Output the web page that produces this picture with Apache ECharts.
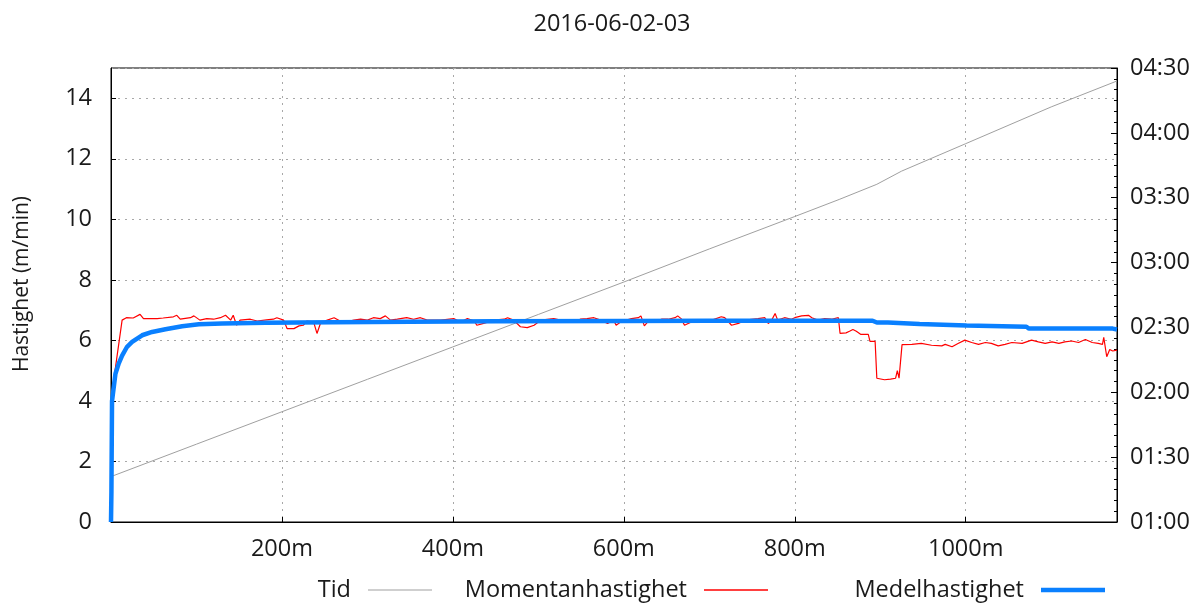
<!DOCTYPE html>
<html>
<head>
<meta charset="utf-8">
<title>2016-06-02-03</title>
<script src="https://cdn.jsdelivr.net/npm/echarts@6/dist/echarts.min.js"></script>
<style>
  html, body { margin: 0; padding: 0; background: #fff; }
  #chart { width: 1194px; height: 603px; }
</style>
</head>
<body>
<div id="chart"></div>
<script>
// Distance (m) vs. instantaneous speed (m/min)
const momentanhastighet = [
  [0, 0], [1.2, 4.3], [13, 6.67], [18, 6.75], [26, 6.74], [34, 6.86], [38, 6.72], [54, 6.72],
  [61, 6.74], [73, 6.78], [77, 6.83], [81, 6.70], [93, 6.75], [97, 6.81], [104, 6.67], [112, 6.72],
  [120, 6.70], [128, 6.75], [134, 6.83], [140, 6.67], [143, 6.83], [147, 6.50], [151, 6.67], [163, 6.70],
  [171, 6.64], [182, 6.68], [190, 6.70], [194, 6.75], [202, 6.67], [206, 6.39], [214, 6.39], [220, 6.48],
  [225, 6.50], [229, 6.64], [237, 6.61], [241, 6.23], [245, 6.56], [253, 6.67], [261, 6.75], [268, 6.64],
  [276, 6.61], [284, 6.67], [292, 6.70], [300, 6.67], [307, 6.75], [315, 6.72], [321, 6.81], [327, 6.67],
  [335, 6.70], [346, 6.75], [354, 6.70], [362, 6.75], [370, 6.67], [386, 6.67], [401, 6.72], [409, 6.61],
  [417, 6.72], [425, 6.64], [428, 6.50], [436, 6.56], [448, 6.67], [460, 6.70], [464, 6.75], [471, 6.67],
  [479, 6.45], [487, 6.42], [495, 6.50], [503, 6.67], [518, 6.72], [526, 6.67], [542, 6.64], [549, 6.70],
  [557, 6.72], [565, 6.75], [573, 6.67], [581, 6.56], [588, 6.67], [591, 6.50], [597, 6.62], [609, 6.72],
  [617, 6.75], [620, 6.81], [624, 6.48], [628, 6.61], [636, 6.64], [644, 6.70], [652, 6.70], [660, 6.75],
  [663, 6.81], [667, 6.72], [671, 6.50], [679, 6.61], [687, 6.67], [703, 6.67], [714, 6.78], [718, 6.75],
  [726, 6.50], [734, 6.56], [742, 6.67], [757, 6.72], [765, 6.75], [769, 6.56], [773, 6.67], [777, 6.89],
  [780, 6.67], [788, 6.75], [796, 6.70], [800, 6.75], [808, 6.81], [816, 6.83], [820, 6.75], [827, 6.67],
  [835, 6.72], [843, 6.70], [851, 6.75], [853, 6.23], [860, 6.25], [864, 6.30], [868, 6.36], [872, 6.30],
  [877, 6.20], [886, 6.20], [888, 5.97], [894, 5.97], [896, 4.75], [905, 4.70], [912, 4.72], [918, 4.75],
  [920, 5.00], [922, 4.75], [924, 4.78], [925.5, 5.86], [937, 5.87], [948, 5.90], [960, 5.84], [972, 5.82],
  [976, 5.87], [984, 5.79], [991, 5.90], [999, 6.01], [1007, 5.93], [1015, 5.87], [1023, 5.93], [1030, 5.90],
  [1038, 5.82], [1046, 5.87], [1054, 5.93], [1066, 5.90], [1077, 6.01], [1085, 5.95], [1093, 5.90], [1101, 5.95],
  [1109, 5.90], [1116, 5.95], [1124, 5.98], [1132, 5.93], [1140, 6.03], [1148, 5.93], [1155, 5.90], [1160, 5.87],
  [1161.5, 6.10], [1165, 5.46], [1168.5, 5.70], [1172, 5.65], [1177, 5.68]
];

// Distance (m) vs. running average speed (m/min)
const medelhastighet = [
  [0, 0], [0.5, 1.0], [1.2, 4.0], [5.2, 4.9], [9.1, 5.24], [13, 5.5], [18.8, 5.79], [24.7, 5.95],
  [36.4, 6.17], [48.1, 6.28], [63.7, 6.37], [83.3, 6.47], [102.8, 6.53], [130, 6.56], [181, 6.58],
  [259, 6.60], [350, 6.62], [450, 6.63], [600, 6.64], [700, 6.65], [891, 6.65], [896, 6.59], [909, 6.59],
  [911, 6.54], [946, 6.54], [948, 6.49], [1001, 6.49], [1003, 6.45], [1071, 6.45], [1074, 6.39],
  [1172, 6.39], [1177, 6.36]
];

// Distance (m) vs. clock time (minutes after midnight)
const tid = [
  [0, 81], [100, 96], [200, 111], [300, 126], [400, 141], [500, 156], [600, 171], [700, 186.3],
  [800, 201.3], [852, 209.2], [896, 216.2], [925, 222.3], [1000, 235], [1100, 252], [1177, 264]
];

const seriesNames = ['Tid', 'Momentanhastighet', 'Medelhastighet'];
const chartTitle = '2016-06-02-03';
const speedAxisName = 'Hastighet (m/min)';

const FONT = '"Open Sans", "Noto Sans", sans-serif';
const TEXT = '#1a1a1a';
const FS = 23.5;

const GRAY = '#a0a0a0', RED = '#ff0000', BLUE = '#0a80ff';

function clock(min) {
  const h = Math.floor(min / 60), m = Math.round(min % 60);
  return String(h).padStart(2, '0') + ':' + String(m).padStart(2, '0');
}

const dotted = { show: true, lineStyle: { color: '#a8a8a8', width: 1, type: [2, 5] } };

// One key entry per column: text right-justified, line sample after it
function legendFor(name, rightEdge, color, thickness) {
  return {
    data: [name],
    right: rightEdge,
    top: 578,
    padding: 0,
    align: 'right',
    icon: 'rect',
    itemWidth: 64,
    itemHeight: thickness,
    itemStyle: { color: color },
    selectedMode: false,
    textStyle: { fontFamily: FONT, fontSize: FS, color: TEXT, padding: [0, 12, 0, 0] }
  };
}

const chart = echarts.init(document.getElementById('chart'), null, { renderer: 'canvas' });
chart.setOption({
  animation: false,
  backgroundColor: '#fff',
  title: {
    text: chartTitle,
    left: 607,
    textAlign: 'center',
    top: 7,
    textStyle: { fontFamily: FONT, fontSize: FS, fontWeight: 'normal', color: TEXT }
  },
  legend: [
    legendFor(seriesNames[0], 762, GRAY, 1),
    legendFor(seriesNames[1], 426, RED, 1.5),
    legendFor(seriesNames[2], 89, BLUE, 4.5)
  ],
  grid: {
    left: 111, right: 77, top: 68, bottom: 81,
    show: true, borderColor: '#000', borderWidth: 1,
    containLabel: false,
    outerBoundsMode: 'none'
  },
  xAxis: {
    type: 'value',
    min: 0, max: 1177, interval: 200,
    axisLine: { show: true, lineStyle: { color: '#000', width: 1 } },
    axisTick: { show: true, inside: true, length: 5, lineStyle: { color: '#000' } },
    axisLabel: {
      fontFamily: FONT, fontSize: FS, color: TEXT, margin: 15,
      showMinLabel: false, showMaxLabel: false,
      formatter: v => (v === 0 ? '' : v + 'm')
    },
    splitLine: dotted
  },
  yAxis: [
    {
      type: 'value',
      min: 0, max: 15, interval: 2,
      name: speedAxisName,
      nameLocation: 'middle',
      nameGap: 78,
      nameTextStyle: { fontFamily: FONT, fontSize: 21, color: TEXT, padding: [0, 0, 0, 22] },
      axisLine: { show: true, lineStyle: { color: '#000', width: 1 } },
      axisTick: { show: true, inside: true, length: 5, lineStyle: { color: '#000' } },
      axisLabel: { fontFamily: FONT, fontSize: FS, color: TEXT, margin: 19, showMaxLabel: false },
      splitLine: dotted
    },
    {
      type: 'value',
      position: 'right',
      min: 60, max: 270, interval: 30,
      axisLine: { show: true, lineStyle: { color: '#000', width: 1 } },
      axisTick: { show: true, inside: true, length: 6, lineStyle: { color: '#000' } },
      minorTick: { show: true, splitNumber: 6, length: 3, lineStyle: { color: '#000' } },
      axisLabel: { fontFamily: FONT, fontSize: FS, color: TEXT, margin: 13, formatter: clock },
      splitLine: { show: false }
    }
  ],
  series: [
    {
      name: seriesNames[0], type: 'line', yAxisIndex: 1, data: tid,
      symbol: 'none', lineStyle: { color: GRAY, width: 1 }, itemStyle: { color: GRAY }, z: 2
    },
    {
      name: seriesNames[1], type: 'line', data: momentanhastighet,
      symbol: 'none', lineStyle: { color: RED, width: 1.2 }, itemStyle: { color: RED }, z: 3
    },
    {
      name: seriesNames[2], type: 'line', data: medelhastighet,
      symbol: 'none', lineStyle: { color: BLUE, width: 4.5 }, itemStyle: { color: BLUE }, z: 4
    }
  ]
});
</script>
</body>
</html>
